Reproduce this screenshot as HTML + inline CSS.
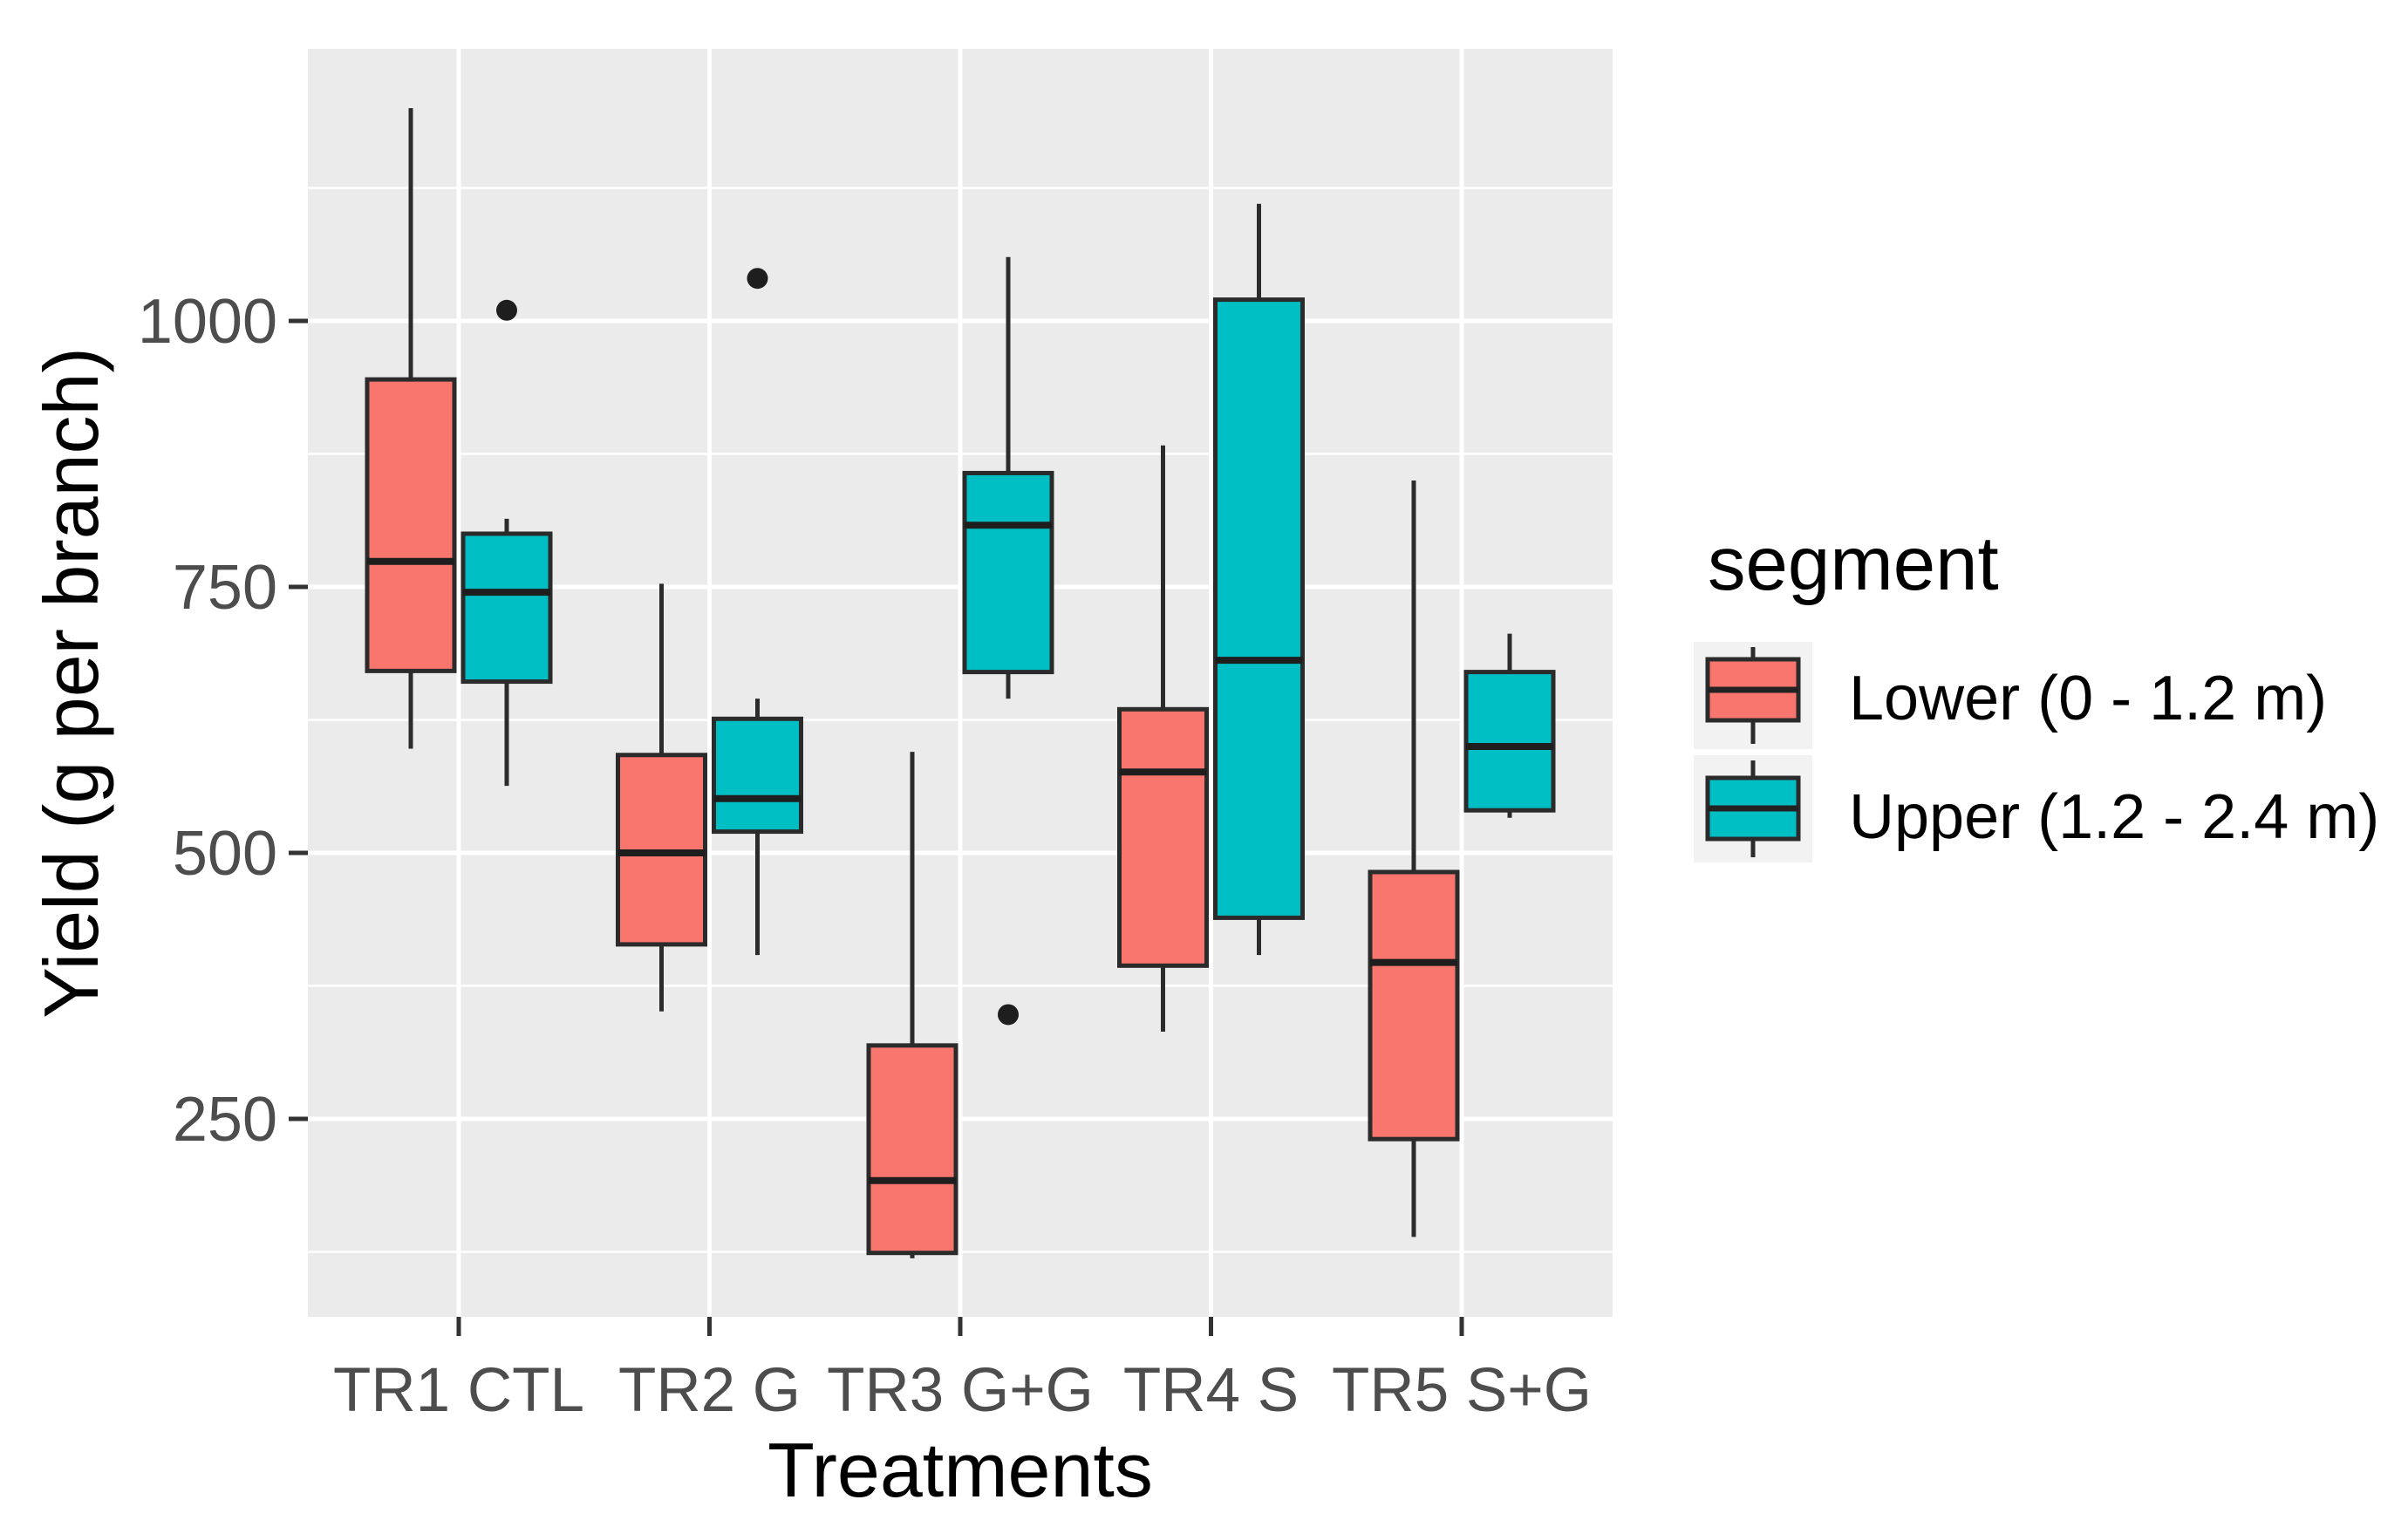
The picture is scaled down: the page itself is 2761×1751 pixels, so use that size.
<!DOCTYPE html>
<html><head><meta charset="utf-8"><style>
html,body{margin:0;padding:0;background:#fff;}
svg{display:block;font-family:"Liberation Sans",sans-serif;}
</style></head><body>
<svg id="chart" width="2761" height="1751" viewBox="0 0 2761 1751" xmlns="http://www.w3.org/2000/svg">
<rect x="353" y="56" width="1496" height="1454" fill="#ebebeb"/>
<g id="grid"></g>
<g id="boxes"></g>
<g id="axes"></g>
<text x="1101" y="1716" font-size="88" text-anchor="middle" fill="#000">Treatments</text>
<text transform="translate(112,783) rotate(-90)" font-size="88" text-anchor="middle" fill="#000">Yield (g per branch)</text>
<g>
<text x="1958" y="676" font-size="87" fill="#000">segment</text>
<rect x="1942" y="736" width="136" height="123" fill="#f2f2f2"/>
<line x1="2010" y1="742" x2="2010" y2="853" stroke="#2b2b2b" stroke-width="5"/>
<rect x="1958" y="756" width="104" height="70" fill="#F8766D" stroke="#2b2b2b" stroke-width="5"/>
<line x1="1958" y1="791" x2="2062" y2="791" stroke="#222" stroke-width="7"/>
<rect x="1942" y="866" width="136" height="123" fill="#f2f2f2"/>
<line x1="2010" y1="872" x2="2010" y2="983" stroke="#2b2b2b" stroke-width="5"/>
<rect x="1958" y="892" width="104" height="70" fill="#00BFC4" stroke="#2b2b2b" stroke-width="5"/>
<line x1="1958" y1="927" x2="2062" y2="927" stroke="#222" stroke-width="7"/>
<text x="2120" y="825" font-size="72" fill="#000">Lower (0 - 1.2 m)</text>
<text x="2120" y="961" font-size="72" fill="#000">Upper (1.2 - 2.4 m)</text>
</g>
</svg>
<script>
const categories = ["TR1 CTL","TR2 G","TR3 G+G","TR4 S","TR5 S+G"];
const lowerMin = [598,351,119,332,139];
const lowerQ1 = [671,414,124,394,231];
const lowerMed = [774,500,192,576,397];
const lowerQ3 = [945,592,319,635,482];
const lowerMax = [1200,753,595,883,850];
const upperMin = [563,404,645,404,533];
const upperQ1 = [661,520,670,439,540];
const upperMed = [745,551,808,681,600];
const upperQ3 = [800,626,857,1020,670];
const upperMax = [814,645,1060,1110,706];
const upperOutliers = [[1010],[1040],[348],[],[]];
const lowerOutliers = [[],[],[],[],[]];
const yTicks = [250,500,750,1000];
const yMinor = [125,375,625,875,1125];

const NS="http://www.w3.org/2000/svg";
const PL=353,PR=1849,PT=56,PB=1510;
function yScale(v){return 368+(1000-v)*1.22;}
function xScale(i){return 526+i*287.5;}
function mk(tag,attrs,parent){const e=document.createElementNS(NS,tag);for(const k in attrs)e.setAttribute(k,attrs[k]);parent.appendChild(e);return e;}
const grid=document.getElementById('grid'),boxes=document.getElementById('boxes'),axes=document.getElementById('axes');
yMinor.forEach(v=>{const l=mk('line',{x1:PL,x2:PR,y1:yScale(v),y2:yScale(v),stroke:'#fff','stroke-width':2.5},grid);

});
yTicks.forEach(v=>{const y=yScale(v);
const l=mk('line',{x1:PL,x2:PR,y1:y,y2:y,stroke:'#fff','stroke-width':5},grid);


const t=mk('line',{x1:331,x2:353,y1:y,y2:y,stroke:'#333','stroke-width':5},axes);


const tx=mk('text',{x:318,y:y+25,'font-size':72,'text-anchor':'end',fill:'#4d4d4d'},axes);tx.textContent=v;

});
categories.forEach((c,i)=>{const x=xScale(i);
const l=mk('line',{x1:x,x2:x,y1:PT,y2:PB,stroke:'#fff','stroke-width':5},grid);


const t=mk('line',{x1:x,x2:x,y1:PB,y2:PB+22,stroke:'#333','stroke-width':5},axes);


const tx=mk('text',{x:x,y:1618,'font-size':71,'text-anchor':'middle',fill:'#4d4d4d'},axes);tx.textContent=c;

});
function drawBox(cx,mn,q1,md,q3,mx,outs,fill,name){
const g=mk('g',{},boxes);


mk('line',{x1:cx,x2:cx,y1:yScale(mx),y2:yScale(mn),stroke:'#2b2b2b','stroke-width':5},g);
mk('rect',{x:cx-50,y:yScale(q3),width:100,height:yScale(q1)-yScale(q3),fill:fill,stroke:'#2b2b2b','stroke-width':5},g);
mk('line',{x1:cx-50,x2:cx+50,y1:yScale(md),y2:yScale(md),stroke:'#1e1e1e','stroke-width':8},g);
outs.forEach(o=>{const p=mk('circle',{cx:cx,cy:yScale(o),r:12,fill:'#1e1e1e'},g);

});}
categories.forEach((c,i)=>{
drawBox(xScale(i)-55,lowerMin[i],lowerQ1[i],lowerMed[i],lowerQ3[i],lowerMax[i],lowerOutliers[i],'#F8766D','box-lower-'+(i+1));
drawBox(xScale(i)+55,upperMin[i],upperQ1[i],upperMed[i],upperQ3[i],upperMax[i],upperOutliers[i],'#00BFC4','box-upper-'+(i+1));});
</script>
</body></html>
